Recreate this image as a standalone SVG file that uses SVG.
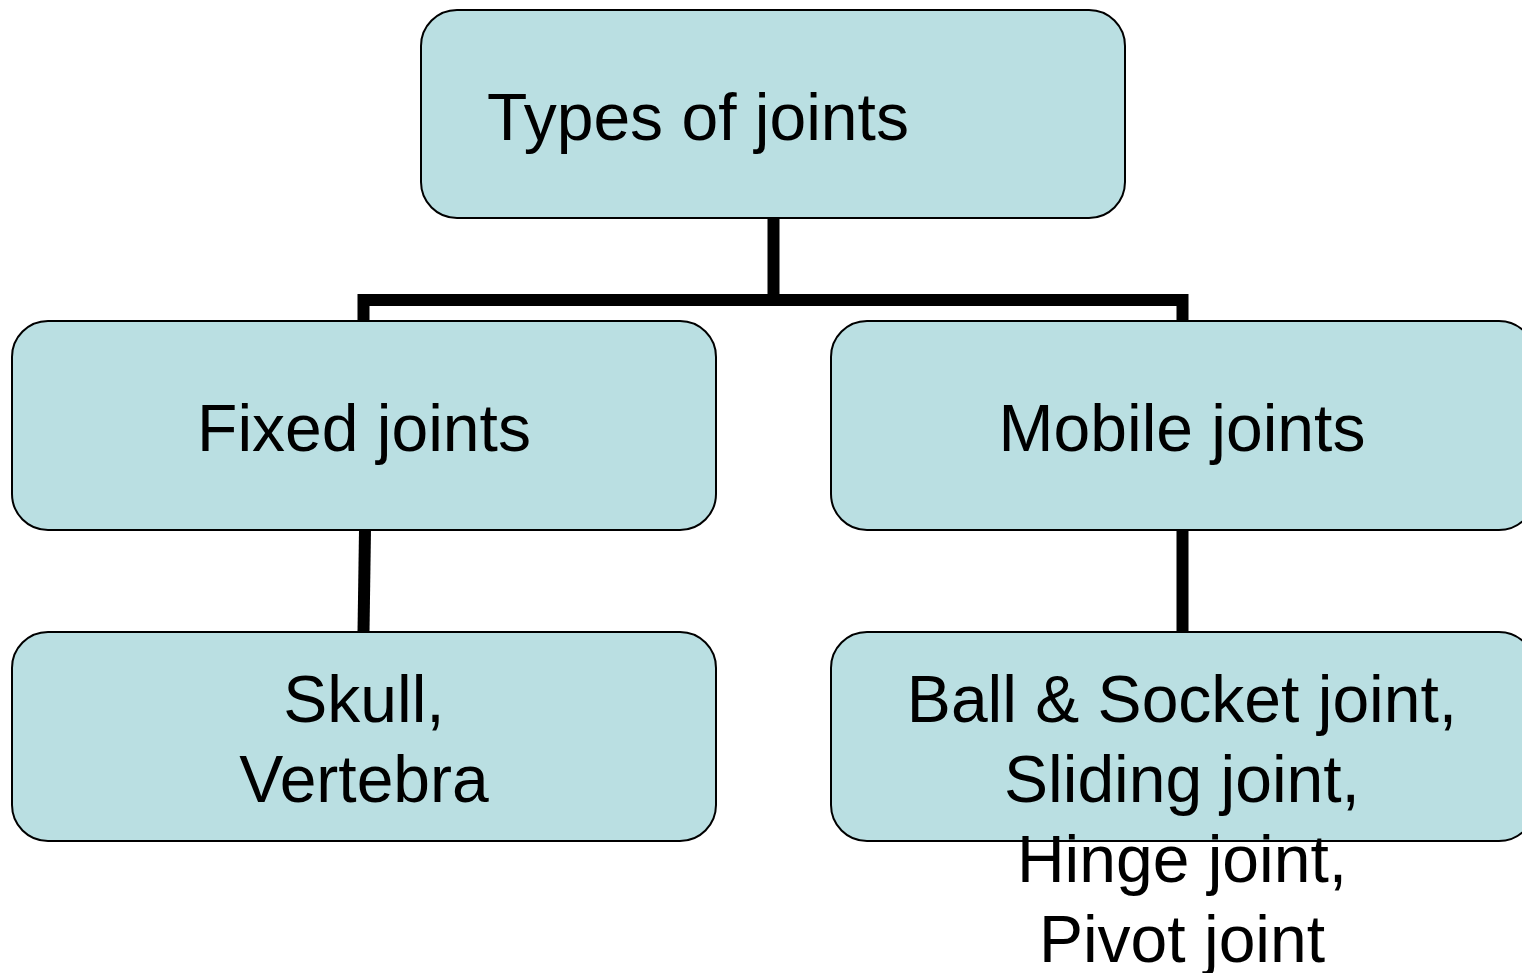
<svg xmlns="http://www.w3.org/2000/svg" width="1522" height="973" viewBox="0 0 1522 973">
<style>
.box{fill:#BADFE2;stroke:#000;stroke-width:2}
.t{font-family:"Liberation Sans",Arial,sans-serif;font-size:66px;fill:#000}
.c{text-anchor:middle}
.conn{fill:none;stroke:#000;stroke-width:12}
</style>
<rect width="1522" height="973" fill="#fff"/>
<g id="connectors">
<path class="conn" d="M773.5,218 V300"/>
<path class="conn" d="M363.5,322 V300 H1182.5 V322"/>
<path class="conn" d="M365,530 L363.5,632"/>
<path class="conn" d="M1182.5,530 V632"/>
</g>
<g id="types">
<rect class="box" x="421" y="10" width="704" height="208" rx="36"/>
<text class="t" x="487" y="140">Types of joints</text>
</g>
<g id="fixed">
<rect class="box" x="12" y="321" width="704" height="209" rx="36"/>
<text class="t c" x="364" y="451">Fixed joints</text>
</g>
<g id="mobile">
<rect class="box" x="831" y="321" width="704" height="209" rx="36"/>
<text class="t c" x="1182" y="451">Mobile joints</text>
</g>
<g id="skull">
<rect class="box" x="12" y="632" width="704" height="209" rx="36"/>
<text class="t c" x="364" y="722">Skull,</text>
<text class="t c" x="364" y="802">Vertebra</text>
</g>
<g id="ball">
<rect class="box" x="831" y="632" width="704" height="209" rx="36"/>
<text class="t c" x="1182" y="722">Ball &amp; Socket joint,</text>
<text class="t c" x="1182" y="802">Sliding joint,</text>
<text class="t c" x="1182" y="882">Hinge joint,</text>
<text class="t c" x="1182" y="962">Pivot joint</text>
</g>
</svg>
